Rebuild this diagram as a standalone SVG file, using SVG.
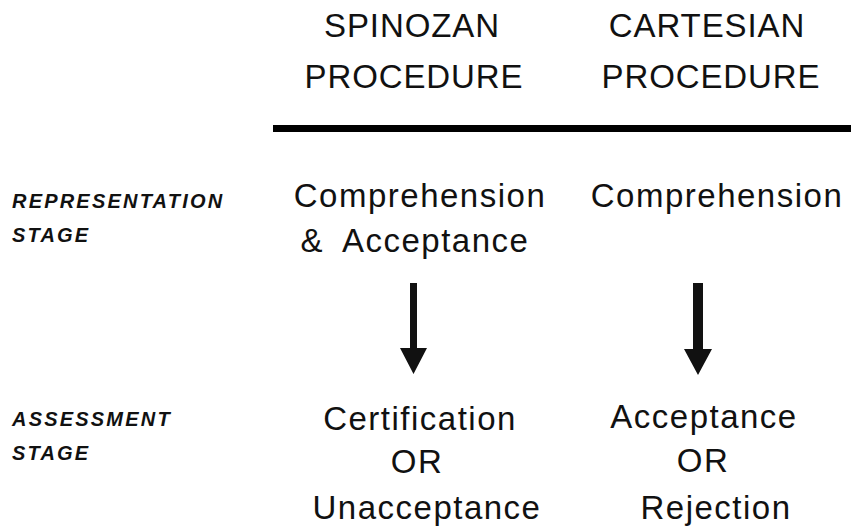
<svg xmlns="http://www.w3.org/2000/svg" width="851" height="530" viewBox="0 0 851 530">
  <style>
    .head { font-family: "Liberation Sans", Arial, sans-serif; font-size: 33px; fill: #111; text-anchor: middle; letter-spacing: 0.9px; }
    .body { font-family: "Liberation Sans", Arial, sans-serif; font-size: 33px; fill: #111; text-anchor: middle; letter-spacing: 1.5px; }
    .stage { font-family: "Liberation Sans", Arial, sans-serif; font-size: 20px; font-weight: bold; font-style: italic; fill: #111; letter-spacing: 2.2px; }
    .arrow { fill: #111; }
  </style>
  <rect width="851" height="530" fill="#fff"/>

  <!-- column headings -->
  <g id="spinozan-heading">
    <text class="head" x="412" y="37">SPINOZAN</text>
    <text class="head" x="414" y="88">PROCEDURE</text>
  </g>
  <g id="cartesian-heading">
    <text class="head" x="707" y="37">CARTESIAN</text>
    <text class="head" x="711" y="88">PROCEDURE</text>
  </g>
  <rect id="rule" x="273" y="125" width="578" height="7" fill="#000"/>

  <!-- row labels -->
  <g id="representation-label">
    <text class="stage" x="12" y="208">REPRESENTATION</text>
    <text class="stage" x="12" y="242">STAGE</text>
  </g>
  <g id="assessment-label">
    <text class="stage" x="12" y="426">ASSESSMENT</text>
    <text class="stage" x="12" y="460">STAGE</text>
  </g>

  <!-- representation stage -->
  <g id="spinozan-representation">
    <text class="body" x="420" y="207">Comprehension</text>
    <text class="body" x="415" y="252">&amp;<tspan dx="9"> Acceptance</tspan></text>
  </g>
  <g id="cartesian-representation">
    <text class="body" x="717" y="207">Comprehension</text>
  </g>

  <!-- assessment stage -->
  <g id="spinozan-assessment">
    <text class="body" x="420" y="430">Certification</text>
    <text class="body" x="417" y="473">OR</text>
    <text class="body" x="427" y="519">Unacceptance</text>
  </g>
  <g id="cartesian-assessment">
    <text class="body" x="704" y="428">Acceptance</text>
    <text class="body" x="703" y="472">OR</text>
    <text class="body" x="716" y="519">Rejection</text>
  </g>

  <!-- connectors -->
  <g id="connectors">
    <path class="arrow" d="M410,283 H417 V348 H427 L413.5,374 L400,348 H410 Z"/>
    <path class="arrow" d="M693,283 H703 V349 H712 L698,375 L684,349 H693 Z"/>
  </g>
</svg>
